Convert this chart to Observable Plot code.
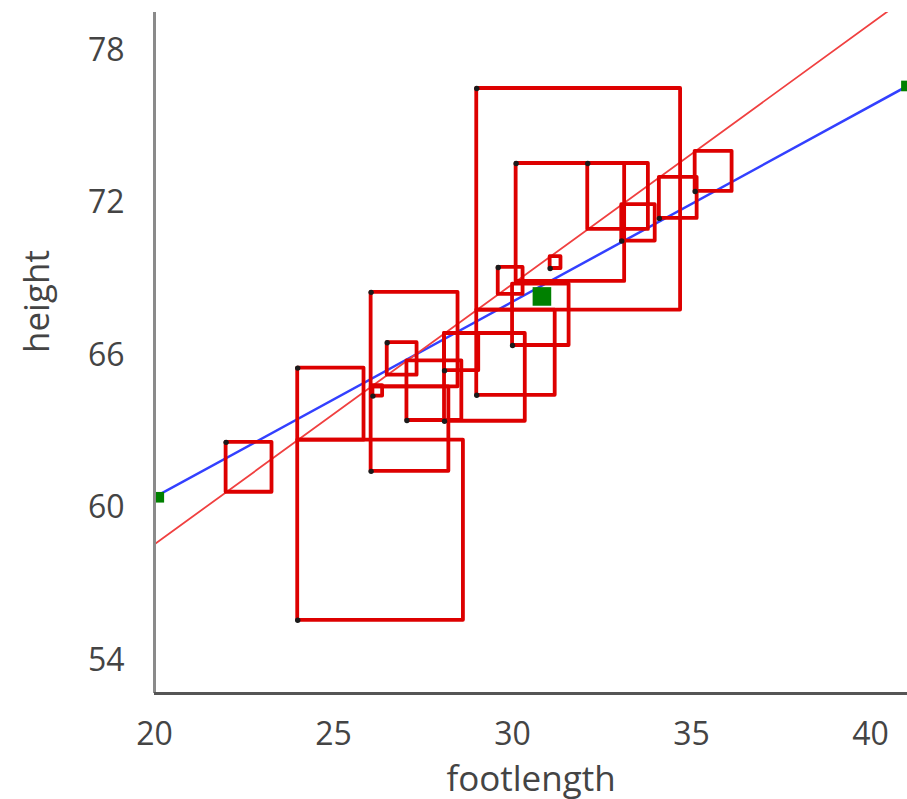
<!DOCTYPE html>
<html><head><meta charset="utf-8">
<script src="https://cdn.jsdelivr.net/npm/d3@7"></script>
<script src="https://cdn.jsdelivr.net/npm/@observablehq/plot@0.6"></script>
<style>body{margin:0;background:#fff} svg{display:block}</style>
</head><body><div id="chart"></div>
<script>
// observed points
const footlength = [22.0, 24.0, 24.0, 26.05, 26.05, 26.1, 26.5, 27.05, 28.1, 28.1, 29.0, 29.0, 29.6, 30.0, 30.1, 31.05, 32.1, 33.05, 34.1, 35.1];
const height     = [62.58, 65.5, 55.58, 68.48, 61.44, 64.4, 66.5, 63.44, 65.4, 63.41, 64.43, 76.5, 69.46, 66.39, 73.55, 69.42, 73.55, 70.5, 71.39, 72.45];
// lines (endpoints)
const lineX     = [20, 41.03];
const redLineY  = [58.57, 80.1];
const blueLineY = [60.42, 76.6];
// draggable handles
const handleX    = [20.12, 41.0];
const handleY    = [60.42, 76.6];
const centerX    = [30.82];
const centerY    = [68.32];
// axes
const xTicks = [20, 25, 30, 35, 40];
const yTicks = [54, 60, 66, 72, 78];
const xDomain = [20, 41.03];
const yDomain = [52.7, 79.49];

const W = 907, H = 799, mL = 154, mR = 0, mT = 12, mB = 106;
const pxPerX = (W - mL - mR) / (xDomain[1] - xDomain[0]);
const pxPerY = (H - mT - mB) / (yDomain[1] - yDomain[0]);
const squareAspect = 0.92;

const slope = (redLineY[1] - redLineY[0]) / (lineX[1] - lineX[0]);
const redAt = x => redLineY[0] + slope * (x - lineX[0]);

const pts = footlength.map((x, i) => ({x, y: height[i]}));
const squares = pts.map(p => {
  const ly = redAt(p.x);
  const r = Math.abs(p.y - ly);
  return {x1: p.x, x2: p.x + r * pxPerY / pxPerX * squareAspect, y1: Math.min(p.y, ly), y2: Math.max(p.y, ly)};
});
const red = lineX.map((x, i) => ({x, y: redLineY[i]}));
const blue = lineX.map((x, i) => ({x, y: blueLineY[i]}));
const handles = handleX.map((x, i) => ({x, y: handleY[i]}));
const center = centerX.map((x, i) => ({x, y: centerY[i]}));

const font = "'Open Sans', 'Noto Sans', sans-serif";
const chart = Plot.plot({
  width: W, height: H,
  marginLeft: mL, marginRight: mR, marginTop: mT, marginBottom: mB,
  style: {fontFamily: font, background: "#fff", overflow: "visible"},
  x: {domain: xDomain},
  y: {domain: yDomain},
  marks: [
    Plot.line(blue, {x: "x", y: "y", stroke: "#3340ff", strokeWidth: 2.5, clip: true}),
    Plot.line(red, {x: "x", y: "y", stroke: "#f04040", strokeWidth: 1.8, clip: true}),
    Plot.rect(squares, {x1: "x1", x2: "x2", y1: "y1", y2: "y2", fill: "none", stroke: "#dd0000", strokeWidth: 3.8, strokeLinejoin: "round", clip: true}),
    Plot.dot(pts, {x: "x", y: "y", r: 2.7, fill: "#1a1a1a", stroke: "none"}),
    Plot.dot(handles, {x: "x", y: "y", symbol: "square", r: 6, fill: "#008000", stroke: "none", clip: true}),
    Plot.dot(center, {x: "x", y: "y", symbol: "square", r: 10.5, fill: "#008000", stroke: "none"}),
    Plot.ruleX([xDomain[0]], {stroke: "#8a8a8a", strokeWidth: 3}),
    Plot.ruleY([yDomain[0]], {stroke: "#555", strokeWidth: 3}),
    Plot.axisX({ticks: xTicks, tickSize: 0, tickPadding: 29, fontSize: 32, label: null, color: "#444"}),
    Plot.axisY({ticks: yTicks, tickSize: 0, tickPadding: 30, fontSize: 32, label: null, color: "#444"}),
    Plot.text(["footlength"], {frameAnchor: "bottom", dy: 86, fontSize: 35, fill: "#444", lineAnchor: "middle"}),
    Plot.text(["height"], {frameAnchor: "left", dx: -117, rotate: -90, fontSize: 35, fill: "#444", lineAnchor: "middle"})
  ]
});
document.getElementById("chart").append(chart);
</script>
</body></html>
